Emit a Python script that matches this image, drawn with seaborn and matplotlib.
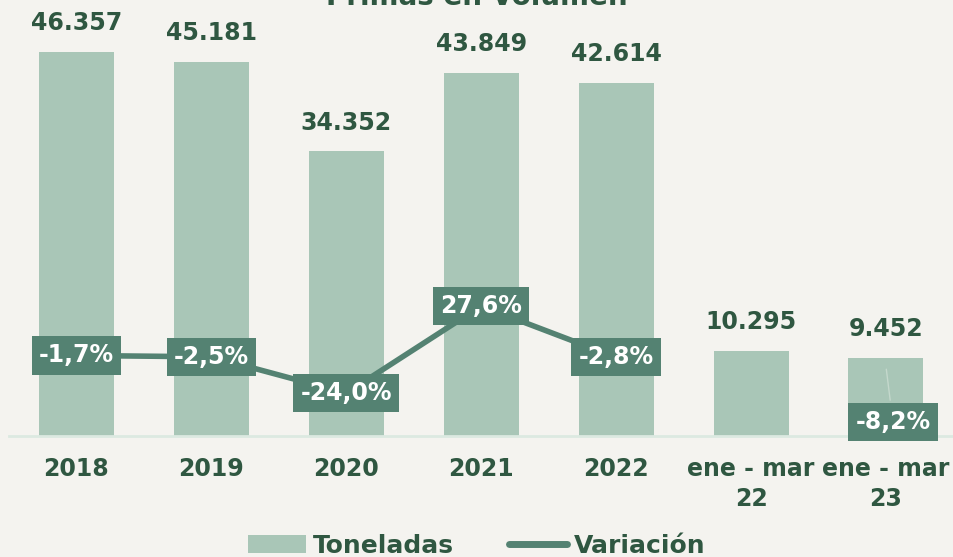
import numpy as np
import pandas as pd
import seaborn as sns
import matplotlib.pyplot as plt
from matplotlib.lines import Line2D
from matplotlib.patches import Patch

# Data
categorias = ["2018", "2019", "2020", "2021", "2022", "ene - mar\n22", "ene - mar\n23"]
toneladas = [46357, 45181, 34352, 43849, 42614, 10295, 9452]
variacion = [-1.7, -2.5, -24.0, 27.6, -2.8, np.nan, -8.2]
etiquetas_ton = ["46.357", "45.181", "34.352", "43.849", "42.614", "10.295", "9.452"]
etiquetas_var = ["-1,7%", "-2,5%", "-24,0%", "27,6%", "-2,8%", "", "-8,2%"]

bg = "#f4f3ef"
bar_color = "#a9c6b7"
line_color = "#548272"
text_color = "#2f5741"

sns.set_theme(style="white")
plt.rcParams["font.family"] = ["DejaVu Sans"]

df = pd.DataFrame({"Periodo": categorias, "Toneladas": toneladas})

fig = plt.figure(figsize=(9.54, 5.57), dpi=100, facecolor=bg)
ax = fig.add_axes([0.0094, 0.217, 0.99, 0.774])
ax.set_facecolor(bg)

sns.barplot(data=df, x="Periodo", y="Toneladas", color=bar_color, saturation=1,
            width=0.556, linewidth=0, ax=ax)
ax.set_xlim(-0.5, 6.5)
ax.set_ylim(0, 52030)
ax.set_xlabel("")
ax.set_ylabel("")
ax.set_yticks([])
for s in ["top", "right", "left"]:
    ax.spines[s].set_visible(False)
ax.spines["bottom"].set_color("#dce9e1")
ax.spines["bottom"].set_linewidth(2)
ax.tick_params(axis="x", length=0, pad=15, labelsize=17, labelcolor=text_color)
for lab in ax.get_xticklabels():
    lab.set_fontweight("bold")
    lab.set_linespacing(1.3)

for i, (v, t) in enumerate(zip(toneladas, etiquetas_ton)):
    ax.annotate(t, (i, v), xytext=(0, 12), textcoords="offset points",
                ha="center", va="bottom", fontsize=17, fontweight="bold",
                color=text_color)

# Variación on secondary axis
ax2 = ax.twinx()
x = np.arange(len(categorias))
ax2.plot(x, variacion, color=line_color, lw=4, solid_capstyle="round", zorder=2)
ax2.set_ylim(-49.5, 206)
ax2.set_yticks([])
for s in ["top", "right", "left", "bottom"]:
    ax2.spines[s].set_visible(False)

for i, (v, t) in enumerate(zip(variacion, etiquetas_var)):
    if np.isnan(v):
        continue
    if i == len(categorias) - 1:
        ax2.annotate(t, (i, v), xytext=(5, -40), textcoords="offset points",
                     ha="center", va="center", fontsize=17, fontweight="bold",
                     color="white",
                     bbox=dict(boxstyle="square,pad=0.3", fc=line_color, ec="none"),
                     arrowprops=dict(arrowstyle="-", color="#c4d8cc", lw=1))
    else:
        ax2.annotate(t, (i, v), ha="center", va="center", fontsize=17,
                     fontweight="bold", color="white", zorder=3,
                     bbox=dict(boxstyle="square,pad=0.3", fc=line_color, ec="none"))

# Title (cut at top like the reference)
fig.text(0.5, 1.005, "Primas en Volumen", ha="center", va="center",
         fontsize=20, fontweight="bold", color=text_color)

handles = [Patch(facecolor=bar_color, edgecolor="none", label="Toneladas"),
           Line2D([0], [0], color=line_color, lw=5, label="Variación")]
leg = fig.legend(handles=handles, loc="center", bbox_to_anchor=(0.5, 0.02),
                 ncol=2, frameon=False, fontsize=18, handlelength=2.3,
                 columnspacing=2.2, handletextpad=0.3)
for t in leg.get_texts():
    t.set_color(text_color)
    t.set_fontweight("bold")

fig.savefig("out.png", dpi=100, facecolor=bg)
